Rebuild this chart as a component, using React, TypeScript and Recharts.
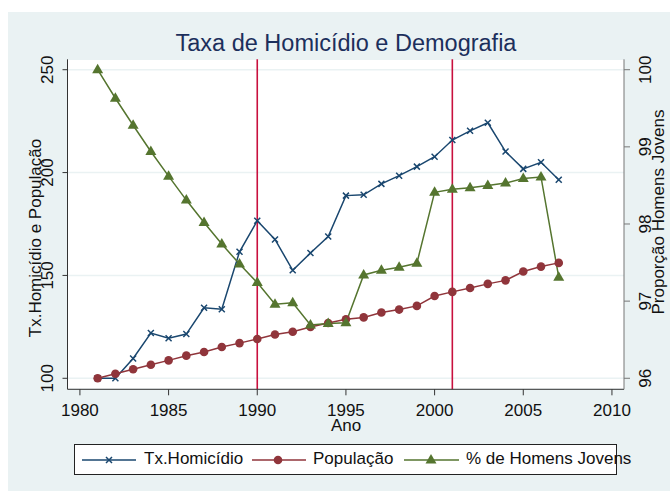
import React from "react";
import {
  LineChart,
  Line,
  XAxis,
  YAxis,
  CartesianGrid,
  ReferenceLine,
} from "recharts";

// values
const years = [
  1981, 1982, 1983, 1984, 1985, 1986, 1987, 1988, 1989, 1990, 1991, 1992, 1993, 1994,
  1995, 1996, 1997, 1998, 1999, 2000, 2001, 2002, 2003, 2004, 2005, 2006, 2007,
];
const homicidio = [
  100, 100, 109.6, 122, 119.5, 121.5, 134.3, 133.6, 161.5, 176.6, 167.5, 152.5, 160.9,
  168.9, 188.8, 189.2, 194.5, 198.5, 202.9, 207.7, 215.8, 220.3, 224.2, 210.2, 201.8,
  205, 196.5,
];
const populacao = [
  100, 102.2, 104.4, 106.6, 108.7, 111, 112.8, 115.2, 117.1, 119.1, 121.3, 122.6, 124.9,
  126.9, 128.7, 129.6, 132, 133.4, 135.2, 140, 142, 143.9, 145.9, 147.6, 151.9, 154.3,
  156.1,
];
const homensJovens = [
  100.0, 99.63, 99.28, 98.94, 98.62, 98.31, 98.02, 97.74, 97.48, 97.24, 96.96, 96.98,
  96.69, 96.71, 96.72, 97.34, 97.4, 97.44, 97.49, 98.41, 98.45, 98.47, 98.5, 98.53,
  98.59, 98.61, 97.31,
];
const xTicks = [1980, 1985, 1990, 1995, 2000, 2005, 2010];
const leftTicks = [100, 150, 200, 250];
const rightTicks = [96, 97, 98, 99, 100];
const eventYears = [1990, 2001];

const data = years.map((ano, i) => ({
  ano,
  homicidio: homicidio[i],
  populacao: populacao[i],
  jovens: homensJovens[i],
}));

const NAVY = "#1a476f";
const MAROON = "#90353b";
const GREEN = "#55752f";
const BG = "#eaf2f3";
const FONT = "'Liberation Sans', Arial, Helvetica, sans-serif";

const XMark = (props: any) => {
  const { cx, cy } = props;
  if (cx == null || cy == null) return null;
  const s = 3;
  return (
    <path
      d={`M${cx - s},${cy - s}L${cx + s},${cy + s}M${cx - s},${cy + s}L${cx + s},${cy - s}`}
      stroke={NAVY}
      strokeWidth={1.5}
    />
  );
};

const Circle = (props: any) => {
  const { cx, cy } = props;
  if (cx == null || cy == null) return null;
  return <circle cx={cx} cy={cy} r={4.3} fill={MAROON} />;
};

const Tri = (props: any) => {
  const { cx, cy } = props;
  if (cx == null || cy == null) return null;
  return (
    <path d={`M${cx},${cy - 6}L${cx + 5.5},${cy + 3.5}L${cx - 5.5},${cy + 3.5}Z`} fill={GREEN} />
  );
};

const LeftTick = (props: any) => {
  const { y, payload } = props;
  return (
    <text
      x={45.5}
      y={y}
      transform={`rotate(-90, 45.5, ${y})`}
      textAnchor="middle"
      fontSize={17}
      fontFamily={FONT}
      fill="#111"
    >
      {payload.value}
    </text>
  );
};

const RightTick = (props: any) => {
  const { y, payload } = props;
  return (
    <text
      x={643}
      y={y}
      transform={`rotate(-90, 643, ${y})`}
      textAnchor="middle"
      fontSize={17}
      fontFamily={FONT}
      fill="#111"
    >
      {payload.value}
    </text>
  );
};

const BottomTick = (props: any) => {
  const { x, payload } = props;
  return (
    <text x={x} y={408} textAnchor="middle" fontSize={17} fontFamily={FONT} fill="#111">
      {payload.value}
    </text>
  );
};

const LegendBox = () => (
  <div
    style={{
      position: "absolute",
      left: 66,
      top: 436,
      width: 541,
      height: 29,
      background: "#fff",
      border: "1px solid #222",
      fontFamily: FONT,
      fontSize: 17,
      color: "#111",
    }}
  >
    <svg style={{ position: "absolute", left: 0, top: 0, overflow: "visible" }} width={541} height={29}>
      <line x1={7} x2={61} y1={15} y2={15} stroke={NAVY} strokeWidth={1.5} />
      <XMark cx={34} cy={15} />
      <line x1={177} x2={231} y1={15} y2={15} stroke={MAROON} strokeWidth={1.5} />
      <Circle cx={203} cy={15} />
      <line x1={329} x2={384} y1={15} y2={15} stroke={GREEN} strokeWidth={1.5} />
      <Tri cx={356} cy={15} />
    </svg>
    <span style={{ position: "absolute", left: 69, top: 4, whiteSpace: "nowrap" }}>Tx.Homicídio</span>
    <span style={{ position: "absolute", left: 238, top: 4, whiteSpace: "nowrap" }}>População</span>
    <span style={{ position: "absolute", left: 391, top: 4, whiteSpace: "nowrap" }}>% de Homens Jovens</span>
  </div>
);

export default function App() {
  return (
    <div
      style={{
        position: "relative",
        width: 662,
        height: 483,
        marginLeft: 8,
        marginTop: 8,
        fontFamily: FONT,
      }}
    >
      <style>{`html, body { margin: 0; padding: 0; overflow: hidden; }`}</style>
      <div style={{ position: "absolute", left: 0, top: 4, width: 662, height: 479, background: BG }} />
      <div style={{ position: "absolute", left: 59.5, top: 51.3, width: 556.5, height: 330, background: "#fff" }} />
      <div
        style={{
          position: "absolute",
          left: 0,
          top: 20,
          width: 676,
          textAlign: "center",
          fontSize: 23.5,
          color: "#1c2f5c",
          lineHeight: "30px",
        }}
      >
        Taxa de Homicídio e Demografia
      </div>
      <div
        style={{
          position: "absolute",
          left: 28,
          top: 230,
          transform: "translate(-50%, -50%) rotate(-90deg)",
          fontSize: 17,
          whiteSpace: "nowrap",
          color: "#111",
        }}
      >
        Tx.Homicídio e População
      </div>
      <div
        style={{
          position: "absolute",
          left: 651,
          top: 203.5,
          transform: "translate(-50%, -50%) rotate(-90deg)",
          fontSize: 17,
          whiteSpace: "nowrap",
          color: "#111",
        }}
      >
        Proporção Homens Jovens
      </div>
      <div
        style={{
          position: "absolute",
          left: 338,
          top: 418,
          transform: "translate(-50%, -50%)",
          fontSize: 17,
          color: "#111",
        }}
      >
        Ano
      </div>
      <div style={{ position: "absolute", left: 0, top: 0 }}>
        <LineChart
          width={662}
          height={483}
          data={data}
          margin={{ top: 51.3, right: 0, left: 0, bottom: 61.7 }}
        >
          <CartesianGrid yAxisId="left" horizontal vertical={false} stroke={BG} strokeWidth={1.5} />
          <XAxis
            dataKey="ano"
            type="number"
            domain={[1979.3, 2010.68]}
            ticks={xTicks}
            allowDataOverflow
            height={40}
            tickSize={6}
            stroke="#333"
            tick={<BottomTick />}
          />
          <YAxis
            yAxisId="left"
            orientation="left"
            domain={[94.65, 255.06]}
            ticks={leftTicks}
            allowDataOverflow
            width={59.5}
            tickSize={5}
            stroke="#333"
            tick={<LeftTick />}
          />
          <YAxis
            yAxisId="right"
            orientation="right"
            domain={[95.857, 100.135]}
            ticks={rightTicks}
            allowDataOverflow
            width={46}
            tickSize={6}
            stroke="#777"
            tick={<RightTick />}
          />
          {eventYears.map((yr) => (
            <ReferenceLine key={yr} x={yr} yAxisId="left" stroke="#c8103e" strokeWidth={1.6} />
          ))}
          <Line
            yAxisId="left"
            dataKey="homicidio"
            stroke={NAVY}
            strokeWidth={1.5}
            dot={<XMark />}
            activeDot={false}
            isAnimationActive={false}
          />
          <Line
            yAxisId="left"
            dataKey="populacao"
            stroke={MAROON}
            strokeWidth={1.5}
            dot={<Circle />}
            activeDot={false}
            isAnimationActive={false}
          />
          <Line
            yAxisId="right"
            dataKey="jovens"
            stroke={GREEN}
            strokeWidth={1.5}
            dot={<Tri />}
            activeDot={false}
            isAnimationActive={false}
          />
        </LineChart>
      </div>
      <LegendBox />
    </div>
  );
}
